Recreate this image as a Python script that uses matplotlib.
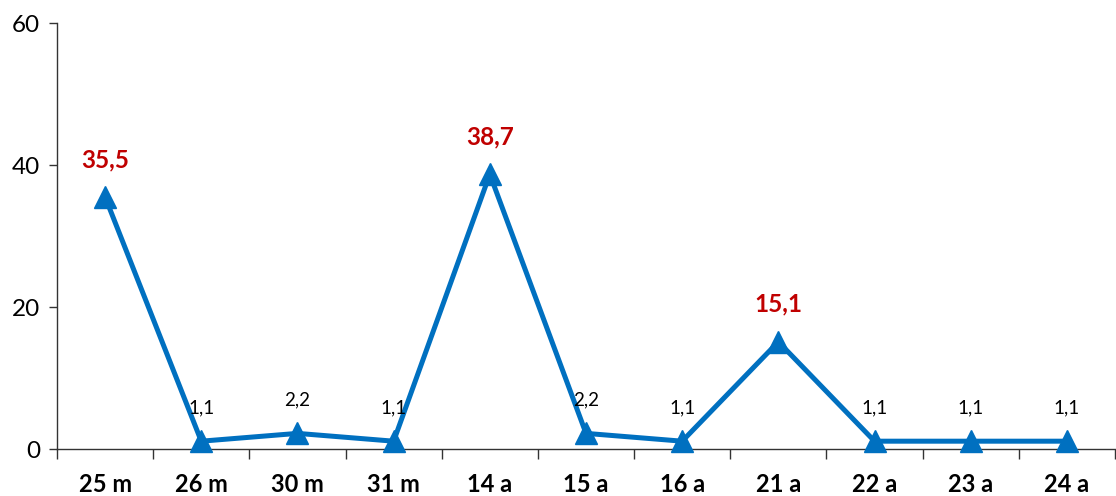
import matplotlib
matplotlib.use("Agg")
import matplotlib.pyplot as plt
import numpy as np

categories = ["25 m", "26 m", "30 m", "31 m", "14 a", "15 a", "16 a", "21 a", "22 a", "23 a", "24 a"]
values = [35.5, 1.1, 2.2, 1.1, 38.7, 2.2, 1.1, 15.1, 1.1, 1.1, 1.1]
highlight_threshold = 10
yticks = [0, 20, 40, 60]

plt.rcParams['font.family'] = ['Lato', 'DejaVu Sans']

fig = plt.figure(figsize=(11.16, 4.96), dpi=100)
ax = fig.add_axes([57/1116, 47/496, 1058/1116, 426/496])

x = np.arange(len(categories))
ax.plot(x, values, color='#0070C0', lw=3.6, marker='^', markersize=16,
        markerfacecolor='#0070C0', markeredgecolor='#0070C0', clip_on=False, zorder=3)

for xi, v in zip(x, values):
    lbl = f"{v:.1f}".replace('.', ',')
    if v > highlight_threshold:
        ax.annotate(lbl, (xi, v), xytext=(0, 27), textcoords='offset points',
                    ha='center', va='center', color='#C00000', fontsize=17.5, fontweight='bold')
    else:
        ax.annotate(lbl, (xi, v), xytext=(0, 24), textcoords='offset points',
                    ha='center', va='center', color='black', fontsize=13.5)

ax.set_xlim(-0.5, len(categories) - 0.5)
ax.set_ylim(0, 60)
ax.set_yticks(yticks)
ax.set_yticklabels([str(t) for t in yticks], fontsize=17.5)
ax.set_xticks(x)
ax.set_xticklabels(categories, fontsize=17, fontweight='bold')
ax.tick_params(axis='x', which='major', length=0, pad=17)
ax.set_xticks(np.arange(-0.5, len(categories) + 0.5, 1), minor=True)
ax.tick_params(axis='x', which='minor', length=7, width=1, color='#333333', direction='out')
ax.tick_params(axis='y', length=6, width=1, color='#333333', direction='out', pad=6)

for s in ['top', 'right']:
    ax.spines[s].set_visible(False)
for s in ['left', 'bottom']:
    ax.spines[s].set_color('#333333')
    ax.spines[s].set_linewidth(1)

fig.savefig('out.png', dpi=100)
